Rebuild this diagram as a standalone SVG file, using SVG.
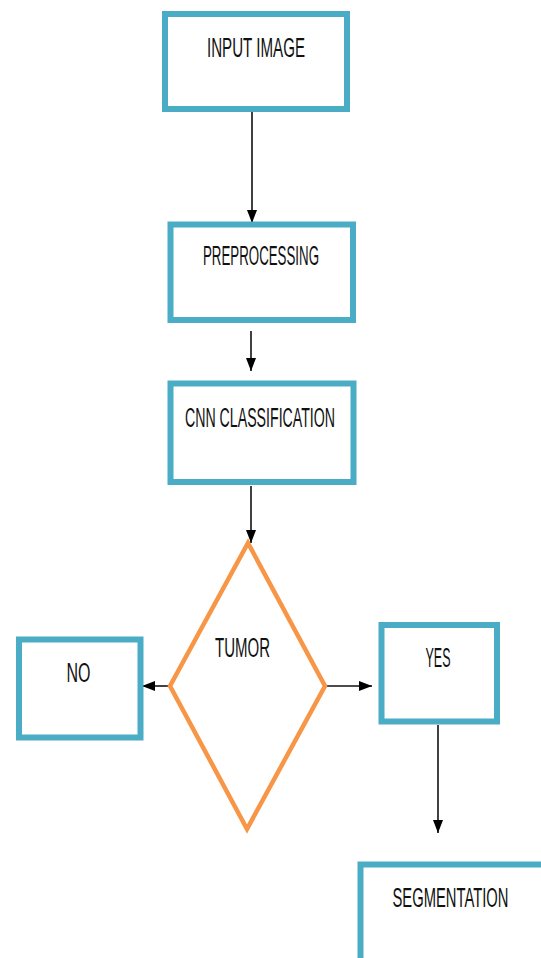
<svg xmlns="http://www.w3.org/2000/svg" width="541" height="958" viewBox="0 0 541 958">
<defs>
<style>
.box{fill:#fff;stroke:#4BACC6;stroke-width:6}
.dia{fill:#fff;stroke:#F79646;stroke-width:4.5;stroke-linejoin:miter}
.lbl{font-family:"Liberation Sans",Arial,sans-serif;font-size:27px;fill:#111;text-anchor:middle}
.con{stroke:#111;stroke-width:1.6;fill:none;marker-end:url(#ah)}
</style>
<marker id="ah" markerUnits="userSpaceOnUse" markerWidth="13" markerHeight="13" viewBox="0 0 13 13" refX="13" refY="6.5" orient="auto">
<path d="M0,1.5 L13,6.5 L0,11.5 Z" fill="#000"/>
</marker>
</defs>
<rect width="541" height="958" fill="#fff"/>
<g id="connectors">
<line class="con" x1="252" y1="111" x2="252" y2="223"/>
<line class="con" x1="251" y1="331" x2="251" y2="371"/>
<line class="con" x1="251" y1="486" x2="251" y2="543"/>
<line class="con" x1="170" y1="686" x2="142" y2="686"/>
<line class="con" x1="325" y1="686" x2="372" y2="686"/>
<line class="con" x1="438" y1="725" x2="438" y2="833"/>
</g>
<g id="input-image">
<rect class="box" x="165" y="14" width="182" height="95"/>
<text class="lbl" x="256" y="57" textLength="98" lengthAdjust="spacingAndGlyphs">INPUT IMAGE</text>
</g>
<g id="preprocessing">
<rect class="box" x="170.5" y="224.5" width="182.5" height="95.5"/>
<text class="lbl" x="261" y="265" textLength="116" lengthAdjust="spacingAndGlyphs">PREPROCESSING</text>
</g>
<g id="cnn-classification">
<rect class="box" x="170.5" y="383.5" width="183" height="98.5"/>
<text class="lbl" x="260" y="427" textLength="150" lengthAdjust="spacingAndGlyphs">CNN CLASSIFICATION</text>
</g>
<g id="tumor">
<polygon class="dia" points="248,543 325,686 247,829 170,686"/>
<text class="lbl" x="242.5" y="657" textLength="55" lengthAdjust="spacingAndGlyphs">TUMOR</text>
</g>
<g id="no">
<rect class="box" x="19" y="639.5" width="121.5" height="98"/>
<text class="lbl" x="78.5" y="682" textLength="24" lengthAdjust="spacingAndGlyphs">NO</text>
</g>
<g id="yes">
<rect class="box" x="381.5" y="625" width="115.5" height="96.5"/>
<text class="lbl" x="438" y="667" textLength="25" lengthAdjust="spacingAndGlyphs">YES</text>
</g>
<g id="segmentation">
<rect class="box" x="360.5" y="864.5" width="200" height="120"/>
<text class="lbl" x="450.5" y="907" textLength="116" lengthAdjust="spacingAndGlyphs">SEGMENTATION</text>
</g>
</svg>
